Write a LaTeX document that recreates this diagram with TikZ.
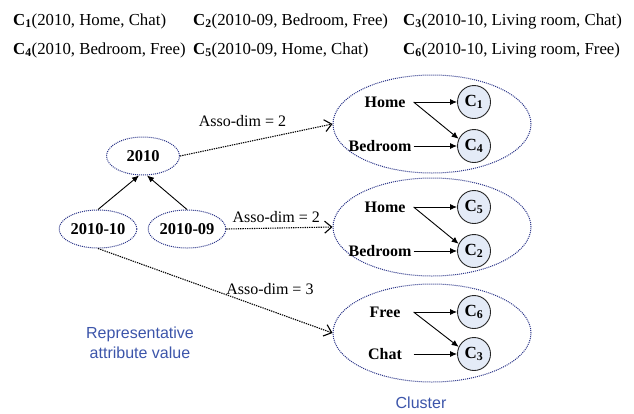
\documentclass[tikz,border=0pt]{standalone}
\usepackage{fontspec}
\setmainfont{Liberation Serif}
\setsansfont{Liberation Sans}
\usetikzlibrary{arrows.meta,shapes,positioning}
\definecolor{ringblue}{RGB}{40,50,135}
\definecolor{labelblue}{RGB}{60,85,170}
\definecolor{cellfill}{RGB}{228,235,247}

\begin{document}
\begin{tikzpicture}[x=1pt, y=-1pt, font=\fontsize{16}{19}\selectfont]
	\tikzset{ValueStyle/.style = {
			shape=ellipse, draw=ringblue, dash pattern=on 1pt off 1pt,
			line width=1pt, minimum width=73pt, minimum height=38pt,
			inner sep=0pt, font=\fontsize{16.5}{19}\selectfont\bfseries
	}}
	\tikzset{ClusterStyle/.style = {
			shape=ellipse, draw=ringblue, dash pattern=on 1pt off 1pt,
			line width=1pt, minimum width=198pt, minimum height=98pt
	}}
	\tikzset{ItemStyle/.style = {inner sep=2pt, font=\fontsize{16}{19}\selectfont\bfseries}}
	\tikzset{CellStyle/.style = {
			shape=circle, draw=black!85, fill=cellfill, line width=0.9pt,
			minimum size=33pt, inner sep=0pt, font=\fontsize{17}{19}\selectfont\bfseries
	}}
	\tikzset{TupleStyle/.style = {anchor=west, inner sep=0pt, font=\fontsize{16.8}{19}\selectfont}}
	\tikzset{NoteStyle/.style = {text=labelblue, align=center, font=\sffamily\fontsize{16}{20}\selectfont}}
	\tikzset{LinkStyle/.style = {draw=black, dash pattern=on 1.3pt off 1pt, line width=1.1pt,
			-{Straight Barb[length=7pt,width=12pt]}}}
	\tikzset{SolidArrow/.style = {line width=0.9pt, -{Latex[length=7pt,width=6pt]}}}
	\useasboundingbox (0,0) rectangle (634,413);
	
	% tuples
	\node[TupleStyle] (t1) at (13,21) {\textbf{C\textsubscript{1}}(2010, Home, Chat)};
	\node[TupleStyle] (t2) at (193,21) {\textbf{C\textsubscript{2}}(2010-09, Bedroom, Free)};
	\node[TupleStyle] (t3) at (403,21) {\textbf{C\textsubscript{3}}(2010-10, Living room, Chat)};
	\node[TupleStyle] (t4) at (13,50) {\textbf{C\textsubscript{4}}(2010, Bedroom, Free)};
	\node[TupleStyle] (t5) at (193,50) {\textbf{C\textsubscript{5}}(2010-09, Home, Chat)};
	\node[TupleStyle] (t6) at (403,50) {\textbf{C\textsubscript{6}}(2010-10, Living room, Free)};
	
	% attribute values
	\node[ValueStyle] (v2010) at (143,156) {2010};
	\node[ValueStyle] (v1010) at (98,229) {2010-10};
	\node[ValueStyle] (v0910) at (187,229) {2010-09};
	
	\draw[SolidArrow] (v1010.north) -- ([xshift=-4pt]v2010.south);
	\draw[SolidArrow] (v0910.north) -- ([xshift=4pt]v2010.south);
	
	% clusters
	\node[ClusterStyle] (k1) at (432,124) {};
	\node[ClusterStyle] (k2) at (432,227) {};
	\node[ClusterStyle] (k3) at (432,333) {};
	
	\node[ItemStyle] (h1) at (385,102) {Home};
	\node[ItemStyle] (b1) at (380,146) {Bedroom};
	\node[CellStyle] (c1) at (474,102) {C\textsubscript{1}};
	\node[CellStyle] (c4) at (474,146) {C\textsubscript{4}};
	
	\node[ItemStyle] (h2) at (385,207) {Home};
	\node[ItemStyle] (b2) at (380,251) {Bedroom};
	\node[CellStyle] (c5) at (474,207) {C\textsubscript{5}};
	\node[CellStyle] (c2) at (474,251) {C\textsubscript{2}};
	
	\node[ItemStyle] (f3) at (385,312) {Free};
	\node[ItemStyle] (ch3) at (385,354) {Chat};
	\node[CellStyle] (c6) at (474,312) {C\textsubscript{6}};
	\node[CellStyle] (c3) at (474,354) {C\textsubscript{3}};
	
	\draw[SolidArrow] (h1.east -| b1.east) -- (c1);
	\draw[SolidArrow] (h1.east -| b1.east) -- (c4.155);
	\draw[SolidArrow] (b1.east) -- (c4);
	\draw[SolidArrow] (h2.east -| b2.east) -- (c5);
	\draw[SolidArrow] (h2.east -| b2.east) -- (c2.155);
	\draw[SolidArrow] (b2.east) -- (c2);
	\draw[SolidArrow] (f3.east -| b2.east) -- (c6);
	\draw[SolidArrow] (f3.east -| b2.east) -- (c3.155);
	\draw[SolidArrow] (ch3.east -| b2.east) -- (c3);
	
	% associations
	\draw[LinkStyle] (v2010.east) -- node[pos=0.41, above=16pt, inner sep=0pt] {Asso-dim = 2} (k1.west);
	\draw[LinkStyle] (v0910.east) -- node[pos=0.47, above=5pt, inner sep=0pt] {Asso-dim = 2} (k2.west);
	\draw[LinkStyle] (v1010.south) -- node[pos=0.733, above=15pt, inner sep=0pt] {Asso-dim = 3} (k3.west);
	
	\node[NoteStyle] (rep) at (140,343) {Representative\\attribute value};
	\node[NoteStyle] (clu) at (421,403) {Cluster};
\end{tikzpicture}
\end{document}
